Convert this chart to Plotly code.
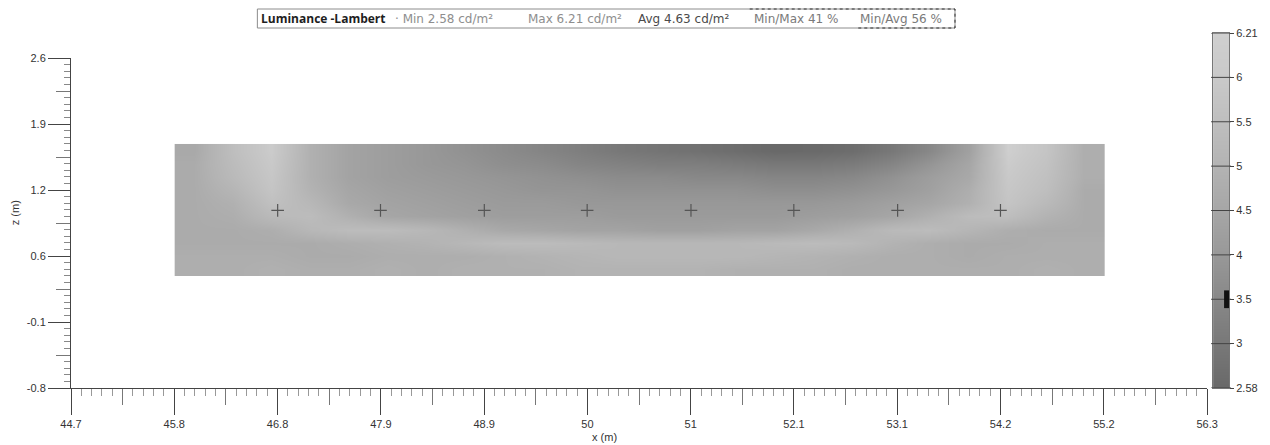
import numpy as np
import plotly.graph_objects as go

# Wall luminance grid (cd/m²): cell centres along x and z, rows listed bottom -> top
wall_x = [45.956, 46.351, 46.747, 47.142, 47.538, 47.933, 48.329, 48.724,
          49.120, 49.515, 49.911, 50.306, 50.702, 51.097, 51.493, 51.888,
          52.284, 52.679, 53.075, 53.470, 53.866, 54.261, 54.657, 55.053]
wall_z = [0.425, 0.561, 0.696, 0.832, 0.968, 1.103, 1.239, 1.375, 1.510, 1.646]

lum_z043 = [4.8, 4.8, 4.9, 4.8, 4.8, 4.9, 4.8, 4.9, 4.9, 4.9, 5.0, 5.0, 5.0, 5.0, 4.9, 4.9, 4.9, 4.8, 4.8, 4.8, 4.8, 4.8, 4.9, 4.8]
lum_z056 = [4.8, 4.8, 4.8, 4.7, 4.7, 4.8, 4.8, 4.8, 4.9, 5.0, 5.1, 5.2, 5.2, 5.2, 5.2, 5.1, 5.0, 4.9, 4.8, 4.8, 4.7, 4.8, 4.8, 4.8]
lum_z070 = [4.7, 4.7, 4.7, 4.7, 4.8, 4.9, 5.0, 5.2, 5.4, 5.4, 5.3, 5.2, 5.2, 5.2, 5.2, 5.3, 5.4, 5.3, 5.0, 4.8, 4.7, 4.7, 4.8, 4.8]
lum_z083 = [4.7, 4.7, 4.8, 5.2, 5.4, 5.4, 5.2, 4.9, 4.6, 4.5, 4.4, 4.4, 4.3, 4.3, 4.4, 4.4, 4.6, 4.9, 5.3, 5.4, 5.1, 4.8, 4.7, 4.7]
lum_z097 = [4.7, 4.8, 5.3, 5.4, 4.9, 4.5, 4.4, 4.3, 4.2, 4.2, 4.2, 4.1, 4.1, 4.1, 4.1, 4.1, 4.2, 4.3, 4.5, 4.9, 5.4, 5.5, 5.0, 4.7]
lum_z110 = [4.7, 4.9, 5.6, 5.2, 4.6, 4.4, 4.3, 4.2, 4.1, 4.1, 4.0, 4.0, 4.0, 4.0, 4.0, 4.0, 4.0, 4.1, 4.3, 4.5, 4.9, 5.8, 5.3, 4.7]
lum_z124 = [4.7, 5.1, 5.8, 5.0, 4.5, 4.3, 4.2, 4.1, 4.0, 3.9, 3.9, 3.8, 3.8, 3.8, 3.8, 3.7, 3.7, 3.8, 4.0, 4.3, 4.8, 5.9, 5.5, 4.7]
lum_z137 = [4.7, 5.3, 5.9, 4.9, 4.4, 4.2, 4.1, 4.0, 3.9, 3.8, 3.7, 3.6, 3.6, 3.5, 3.5, 3.4, 3.4, 3.5, 3.8, 4.2, 4.6, 6.0, 5.6, 4.8]
lum_z151 = [4.7, 5.4, 6.0, 4.9, 4.4, 4.2, 4.0, 3.9, 3.7, 3.6, 3.4, 3.3, 3.2, 3.2, 3.1, 3.0, 3.0, 3.1, 3.4, 3.9, 4.5, 6.1, 5.7, 4.8]
lum_z165 = [4.6, 5.5, 6.1, 4.9, 4.4, 4.2, 4.0, 3.8, 3.6, 3.4, 3.2, 3.0, 2.9, 2.8, 2.7, 2.58, 2.6, 2.7, 3.0, 3.5, 4.3, 6.21, 5.8, 4.8]

# Luminaire positions marked on the wall
lum_pts_x = [46.81, 47.86, 48.92, 49.97, 51.03, 52.08, 53.14, 54.19]
lum_pts_z = [1.03, 1.03, 1.03, 1.03, 1.03, 1.03, 1.03, 1.03]

# Axis tick labels
x_ticktext = ["44.7", "45.8", "46.8", "47.9", "48.9", "50", "51", "52.1", "53.1", "54.2", "55.2", "56.3"]
z_ticktext = ["2.6", "1.9", "1.2", "0.6", "-0.1", "-0.8"]

# Scale legend levels (cd/m²), bottom -> top, shown at equal steps
scale_vals = [2.58, 3, 3.5, 4, 4.5, 5, 5.5, 6, 6.21]
scale_text = ["2.58", "3", "3.5", "4", "4.5", "5", "5.5", "6", "6.21"]
scale_flag = 3.5

# Header: result name followed by the summary statistics
header_name = "Luminance -Lambert"
header_stats = ["· Min 2.58 cd/m²", "Max 6.21 cd/m²", "Avg 4.63 cd/m²", "Min/Max 41 %", "Min/Avg 56 %"]

lum_grid = [lum_z043, lum_z056, lum_z070, lum_z083, lum_z097,
            lum_z110, lum_z124, lum_z137, lum_z151, lum_z165]

X0, X1 = 44.7, 56.3
Y0, Y1 = -0.8, 2.6
x_ticks = np.linspace(X0, X1, len(x_ticktext))
y_ticks = np.linspace(Y1, Y0, len(z_ticktext))
x_step = x_ticks[1] - x_ticks[0]
y_step = y_ticks[0] - y_ticks[1]

# pixel frame of the paper area
W, H = 1270, 445
ML, MR, MT, MB = 71, 20, 33, 57
PW, PH = W - ML - MR, H - MT - MB


def px(xp):
    return (xp - ML) / PW


def py(yp):
    return (H - MB - yp) / PH


# main plot spans x 71..1211 px, y 58..388 px; scale strip 1217..1233 px, 33..388 px
main_dom_x = [0.0, px(1211)]
main_dom_y = [0.0, py(58)]
strip_dom_x = [px(1217), px(1233)]
strip_dom_y = [0.0, 1.0]

vmin, vmax = scale_vals[0], scale_vals[-1]


def norm(v):
    return (v - vmin) / (vmax - vmin)


grey_scale = [
    [0.0, "#696969"],
    [norm(3.0), "#787878"],
    [norm(3.5), "#888888"],
    [norm(4.0), "#989898"],
    [norm(4.5), "#a6a6a6"],
    [norm(5.0), "#b3b3b3"],
    [norm(5.5), "#bebebe"],
    [norm(6.0), "#c9c9c9"],
    [1.0, "#cfcfcf"],
]

fig = go.Figure()

fig.add_trace(go.Heatmap(
    x=wall_x, y=wall_z, z=lum_grid,
    zsmooth="best", colorscale=grey_scale, zmin=vmin, zmax=vmax,
    showscale=False, hoverinfo="skip",
))

fig.add_trace(go.Scatter(
    x=lum_pts_x, y=lum_pts_z, mode="markers",
    marker=dict(symbol="cross-thin", size=9, line=dict(color="#555", width=1.2)),
    hoverinfo="skip", showlegend=False,
))

# helper traces so the overlay axes carrying the mid-length ticks get drawn
fig.add_trace(go.Scatter(x=[X0], y=[Y0], xaxis="x2", yaxis="y", mode="markers",
                         marker=dict(opacity=0), hoverinfo="skip", showlegend=False))
fig.add_trace(go.Scatter(x=[X0], y=[Y0], xaxis="x", yaxis="y2", mode="markers",
                         marker=dict(opacity=0), hoverinfo="skip", showlegend=False))

# scale strip: one cell per legend level, smoothed between levels
level_pos = list(range(len(scale_vals)))
fig.add_trace(go.Heatmap(
    x=[0], y=level_pos, z=[[v] for v in scale_vals],
    xaxis="x3", yaxis="y3", zsmooth="best",
    colorscale=grey_scale, zmin=vmin, zmax=vmax,
    showscale=False, hoverinfo="skip",
))

axis_font = dict(family="Liberation Sans, Arial, sans-serif", size=11, color="#333")

fig.update_layout(
    width=W, height=H, autosize=False,
    margin=dict(l=ML, r=MR, t=MT, b=MB),
    paper_bgcolor="white", plot_bgcolor="white",
    showlegend=False,
    xaxis=dict(
        domain=main_dom_x, anchor="y",
        range=[X0, X1], tickvals=x_ticks, ticktext=x_ticktext,
        ticks="outside", ticklen=26, tickcolor="#444", tickwidth=1,
        showline=True, linecolor="#444", linewidth=1,
        showgrid=False, zeroline=False, tickfont=axis_font,
        minor=dict(tick0=X0, dtick=x_step / 10, ticks="outside", ticklen=7,
                   tickcolor="#999", showgrid=False),
    ),
    xaxis2=dict(
        range=[X0, X1], overlaying="x", anchor="y", side="bottom",
        tickvals=x_ticks[:-1] + x_step / 2, ticks="outside", ticklen=16,
        tickcolor="#777", showticklabels=False, showline=False,
        showgrid=False, zeroline=False,
    ),
    yaxis=dict(
        domain=main_dom_y, anchor="x",
        range=[Y0, Y1], tickvals=y_ticks, ticktext=z_ticktext,
        ticks="outside", ticklen=22, tickcolor="#444", tickwidth=1,
        showline=True, linecolor="#444", linewidth=1,
        showgrid=False, zeroline=False, tickfont=axis_font,
        minor=dict(tick0=Y0, dtick=y_step / 10, ticks="outside", ticklen=6,
                   tickcolor="#888", showgrid=False),
    ),
    yaxis2=dict(
        range=[Y0, Y1], overlaying="y", anchor="x", side="left",
        tickvals=y_ticks[1:] + y_step / 2, ticks="outside", ticklen=14,
        tickcolor="#777", showticklabels=False, showline=False,
        showgrid=False, zeroline=False,
    ),
    xaxis3=dict(
        domain=strip_dom_x, anchor="y3", range=[-0.5, 0.5],
        showticklabels=False, ticks="", showgrid=False, zeroline=False,
        showline=True, linecolor="#777", mirror=True,
    ),
    yaxis3=dict(
        domain=strip_dom_y, anchor="x3", side="right",
        range=[level_pos[0], level_pos[-1]],
        tickvals=level_pos, ticktext=scale_text,
        ticks="outside", ticklen=4, tickcolor="#444",
        showgrid=False, zeroline=False,
        showline=True, linecolor="#777", mirror=True,
        tickfont=dict(family="Liberation Sans, Arial, sans-serif", size=11, color="#333"),
    ),
)

# tick bars across the scale strip
for p in level_pos:
    fig.add_shape(type="line", xref="paper", yref="y3",
                  x0=px(1215), x1=px(1235), y0=p, y1=p,
                  line=dict(color="#444", width=1), layer="above")

# flag on the scale strip
flag_pos = float(np.interp(scale_flag, scale_vals, level_pos))
fig.add_shape(type="rect", xref="paper", yref="y3",
              x0=px(1228), x1=px(1233), y0=flag_pos - 0.2, y1=flag_pos + 0.2,
              fillcolor="#111", line=dict(width=0), layer="above")

# header box
BOX_L, BOX_R, BOX_T, BOX_B = 258, 958, 9, 28
fig.add_shape(type="rect", xref="paper", yref="paper",
              x0=px(BOX_L), x1=px(BOX_R), y0=py(BOX_B), y1=py(BOX_T),
              line=dict(color="#8c8c8c", width=1), fillcolor="white", layer="above")
fig.add_shape(type="path", xref="paper", yref="paper",
              path=f"M {px(752)},{py(BOX_T)} L {px(BOX_R)},{py(BOX_T)} L {px(BOX_R)},{py(BOX_B)} L {px(858)},{py(BOX_B)}",
              line=dict(color="#333", width=1, dash="dot"), layer="above")

fig.add_annotation(
    xref="paper", yref="paper", x=px(260), y=py(18.5),
    text=f"<b>{header_name}</b>", showarrow=False, xanchor="left", yanchor="middle",
    font=dict(family="Open Sans, Liberation Sans, sans-serif", size=12, color="#1e1e1e"),
)
stat_left = [394, 528, 638, 754, 861]
stat_colour = ["#8e8e8e", "#8e8e8e", "#4a4a4a", "#7a7a7a", "#7a7a7a"]
for txt, xl, col in zip(header_stats, stat_left, stat_colour):
    fig.add_annotation(
        xref="paper", yref="paper", x=px(xl), y=py(18.5),
        text=txt, showarrow=False, xanchor="left", yanchor="middle",
        font=dict(family="DejaVu Sans, sans-serif", size=12, color=col),
    )

fig.add_annotation(
    xref="paper", yref="paper", x=px(606), y=py(437),
    text="x (m)", showarrow=False, xanchor="center", yanchor="middle",
    font=axis_font,
)
fig.add_annotation(
    xref="paper", yref="paper", x=px(15), y=py(213),
    text="z (m)", showarrow=False, textangle=-90, xanchor="center", yanchor="middle",
    font=axis_font,
)

fig.write_html("out.html")
